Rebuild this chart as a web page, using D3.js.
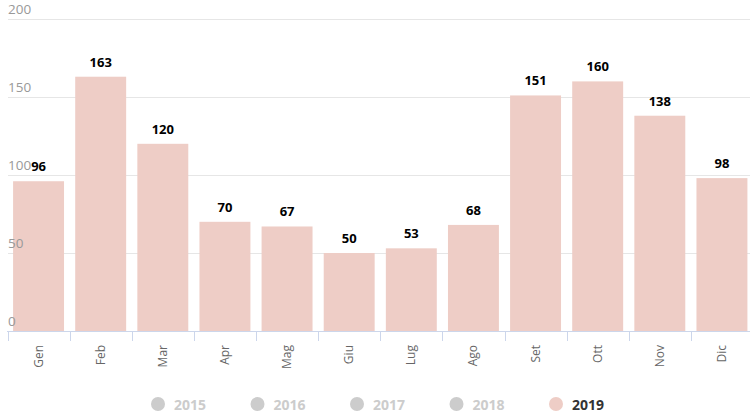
<!DOCTYPE html>
<html><head><meta charset="utf-8">
<script src="https://cdn.jsdelivr.net/npm/d3@7"></script>
<style>body{margin:0;background:#fff;font-family:"Open Sans",sans-serif}</style>
</head><body><svg id="c" width="750" height="414"></svg>
<script>
const months = ["Gen","Feb","Mar","Apr","Mag","Giu","Lug","Ago","Set","Ott","Nov","Dic"];
const values2019 = [96,163,120,70,67,50,53,68,151,160,138,98];
const yTicks = [0,50,100,150,200];
const legendYears = ["2015","2016","2017","2018","2019"];
const activeYear = "2019";

const svg = d3.select("#c");
const barColor = "#eecdc6";
const x = d3.scaleBand().domain(months).range([7.5, 753]).paddingInner(0.18).paddingOuter(0.09);
const y = d3.scaleLinear().domain([0,200]).range([331, 19]);

// gridlines
svg.append("g").selectAll("line").data(yTicks.filter(d=>d>0)).join("line")
  .attr("x1",8).attr("x2",750).attr("y1",d=>y(d)+0.5).attr("y2",d=>y(d)+0.5)
  .attr("stroke","#e6e6e6").attr("stroke-width",1);

// bars
svg.append("g").selectAll("rect").data(values2019).join("rect")
  .attr("x",(d,i)=>x(months[i])).attr("width",x.bandwidth())
  .attr("y",d=>y(d)).attr("height",d=>y(0)-y(d)).attr("fill",barColor);

// y labels
svg.append("g").selectAll("text").data(yTicks).join("text")
  .attr("x",8).attr("y",d=>y(d)-5).text(d=>d)
  .attr("font-size",13.5).attr("fill","#999");

// x axis
const xa = svg.append("g").attr("transform","translate(0,331)");
xa.append("line").attr("x1",7).attr("x2",750).attr("y1",0.5).attr("y2",0.5).attr("stroke","#ccd6eb");
const step = x.step();
const tickXs = months.map(m=>x(m)-x.paddingInner()*step/2);
xa.selectAll("line.t").data(tickXs).join("line").attr("class","t")
  .attr("x1",d=>Math.round(d)+0.5).attr("x2",d=>Math.round(d)+0.5).attr("y1",0).attr("y2",10)
  .attr("stroke","#ccd6eb");
xa.selectAll("text").data(months).join("text")
  .attr("transform",d=>`translate(${x(d)+x.bandwidth()/2+4},14) rotate(-90)`)
  .attr("text-anchor","end").attr("font-size",12).attr("fill","#666").text(d=>d);

// data labels
svg.append("g").selectAll("text").data(values2019).join("text")
  .attr("x",(d,i)=>x(months[i])+x.bandwidth()/2).attr("y",d=>y(d)-10)
  .attr("text-anchor","middle").attr("font-size",13).attr("font-weight","bold").attr("fill","#000")
  .text(d=>d);

// legend
const lg = svg.append("g");
legendYears.forEach((yr,i)=>{
  const gx = 158 + i*99.5;
  const on = yr===activeYear;
  lg.append("circle").attr("cx",gx).attr("cy",404).attr("r",7).attr("fill",on?barColor:"#cccccc");
  lg.append("text").attr("x",gx+16).attr("y",409.5).attr("font-size",14).attr("font-weight","bold")
    .attr("fill",on?"#333":"#cccccc").text(yr);
});
</script></body></html>
